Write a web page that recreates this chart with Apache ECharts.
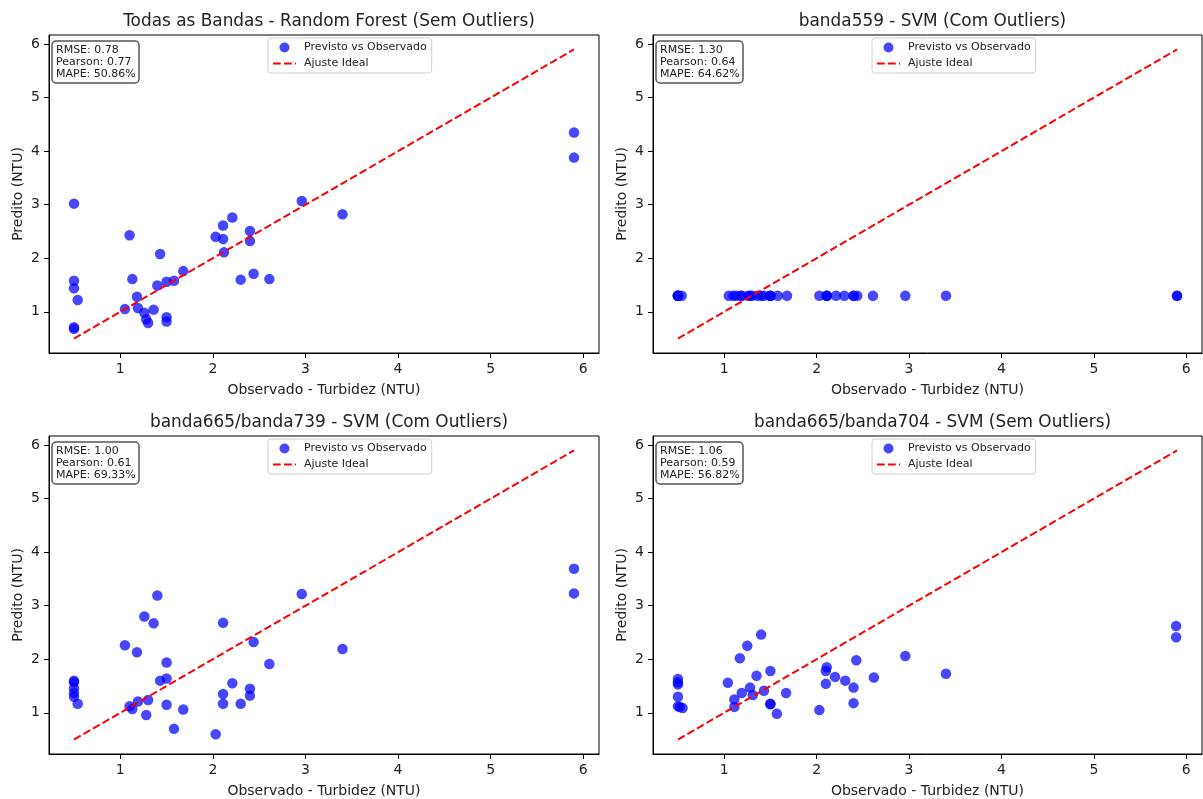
<!DOCTYPE html>
<html>
<head>
<meta charset="utf-8">
<script src="https://cdn.jsdelivr.net/npm/echarts@6/dist/echarts.min.js"></script>
<style>
html,body{margin:0;padding:0;background:#fff;}
#chart{width:1203px;height:799px;}
</style>
</head>
<body>
<div id="chart"></div>
<script>
// ---------- data ----------
const panelTitles = [
  'Todas as Bandas - Random Forest (Sem Outliers)',
  'banda559 - SVM (Com Outliers)',
  'banda665/banda739 - SVM (Com Outliers)',
  'banda665/banda704 - SVM (Sem Outliers)'
];
const rmseValues = [0.78, 1.30, 1.00, 1.06];
const pearsonValues = [0.77, 0.64, 0.61, 0.59];
const mapeValues = [50.86, 64.62, 69.33, 56.82];
const tickValues = [1, 2, 3, 4, 5, 6];
const idealX = [0.5, 5.9];
const idealY = [0.5, 5.9];
const xAxisName = 'Observado - Turbidez (NTU)';
const yAxisName = 'Predito (NTU)';
const scatterName = 'Previsto vs Observado';
const lineName = 'Ajuste Ideal';

// Panel 1: Todas as Bandas - Random Forest (Sem Outliers)
const obsA = [0.5,0.5,0.5,0.5,0.5,0.54,1.10,1.13,1.18,1.05,1.19,1.26,1.28,1.30,1.36,1.43,1.40,1.50,1.50,1.50,1.58,1.68,2.03,2.11,2.11,2.12,2.21,2.40,2.40,2.44,2.30,2.61,2.96,3.40,5.90,5.90];
const predA = [3.02,1.58,1.44,0.71,0.68,1.22,2.43,1.61,1.28,1.05,1.07,0.98,0.86,0.79,1.04,2.08,1.49,1.56,0.90,0.82,1.58,1.76,2.40,2.61,2.36,2.11,2.76,2.51,2.32,1.71,1.60,1.61,3.07,2.82,4.35,3.88];

// Panel 2: banda559 - SVM (Com Outliers)
const obsB = [0.5,0.5,0.5,0.5,0.5,0.54,1.05,1.18,1.26,1.36,1.40,1.50,1.43,1.50,1.10,1.13,1.19,1.30,1.28,1.50,1.68,1.58,2.03,2.11,2.11,2.11,2.21,2.30,2.40,2.40,2.44,2.61,2.96,3.40,5.90,5.90];
const predB = [1.30,1.30,1.30,1.30,1.30,1.30,1.30,1.30,1.30,1.30,1.30,1.30,1.30,1.30,1.30,1.30,1.30,1.30,1.30,1.30,1.30,1.30,1.30,1.30,1.30,1.30,1.30,1.30,1.30,1.30,1.30,1.30,1.30,1.30,1.30,1.30];

// Panel 3: banda665/banda739 - SVM (Com Outliers)
const obsC = [0.5,0.5,0.5,0.5,0.5,0.54,1.05,1.18,1.26,1.36,1.40,1.50,1.43,1.50,1.10,1.13,1.19,1.30,1.28,1.50,1.68,1.58,2.03,2.11,2.11,2.11,2.21,2.30,2.40,2.40,2.44,2.61,2.96,3.40,5.90,5.90];
const predC = [1.60,1.57,1.46,1.37,1.30,1.17,2.26,2.13,2.80,2.67,3.19,1.94,1.60,1.64,1.12,1.07,1.21,1.24,0.96,1.15,1.06,0.70,0.60,2.68,1.35,1.17,1.55,1.17,1.45,1.32,2.32,1.91,3.22,2.19,3.69,3.23];

// Panel 4: banda665/banda704 - SVM (Sem Outliers)
const obsD = [0.5,0.5,0.5,0.5,0.5,0.52,0.55,1.04,1.11,1.11,1.17,1.19,1.25,1.28,1.31,1.35,1.40,1.43,1.50,1.50,1.50,1.57,1.67,2.03,2.10,2.11,2.10,2.20,2.31,2.40,2.40,2.43,2.62,2.96,3.40,5.89,5.89];
const predD = [1.63,1.57,1.53,1.30,1.12,1.11,1.09,1.56,1.25,1.11,2.02,1.37,2.25,1.47,1.33,1.69,2.46,1.41,1.78,1.17,1.16,0.98,1.37,1.05,1.78,1.85,1.54,1.67,1.60,1.47,1.18,1.98,1.66,2.06,1.73,2.62,2.41];

const panelObs = [obsA, obsB, obsC, obsD];
const panelPred = [predA, predB, predC, predD];

// ---------- layout ----------
const FONT = 'DejaVu Sans';
const POINT_COLOR = 'rgba(0,0,255,0.72)';
const gridRects = [
  {left: 49,  top: 35,  width: 550, height: 318},
  {left: 653, top: 35,  width: 549, height: 318},
  {left: 49,  top: 436, width: 550, height: 318},
  {left: 653, top: 436, width: 549, height: 318}
];
const axisMin = 0.23, axisMax = 6.17;

const grid = [], xAxis = [], yAxis = [], series = [], legend = [], title = [];

gridRects.forEach((g, i) => {
  grid.push({left: g.left, top: g.top, width: g.width, height: g.height,
    show: true, borderColor: '#000', borderWidth: 1, backgroundColor: '#fff', containLabel: false});

  const axisCommon = {
    type: 'value', gridIndex: i, min: axisMin, max: axisMax,
    splitLine: {show: false},
    axisLine: {show: true, onZero: false, lineStyle: {color: '#000', width: 1}},
    axisTick: {show: true, length: 5, customValues: tickValues, lineStyle: {color: '#000', width: 1}},
    axisLabel: {customValues: tickValues, margin: 9, fontSize: 14, color: '#222', fontFamily: FONT},
    nameLocation: 'middle',
    nameTextStyle: {fontSize: 14, color: '#222', fontFamily: FONT}
  };
  xAxis.push(Object.assign({}, axisCommon, {name: xAxisName, nameGap: 30}));
  yAxis.push(Object.assign({}, axisCommon, {name: yAxisName, nameGap: 24}));

  const pts = panelObs[i].map((x, k) => [x, panelPred[i][k]]);
  series.push({
    name: scatterName, type: 'scatter', xAxisIndex: i, yAxisIndex: i,
    data: pts, symbol: 'circle', symbolSize: 10.5,
    itemStyle: {color: POINT_COLOR, opacity: 1}, z: 2
  });
  series.push({
    name: lineName, type: 'line', xAxisIndex: i, yAxisIndex: i,
    data: idealX.map((x, k) => [x, idealY[k]]),
    symbol: 'none', showSymbol: false,
    lineStyle: {color: '#ff0000', width: 2, type: [7.7, 3.3]},
    itemStyle: {color: '#ff0000'}, z: 3
  });

  legend.push({
    left: g.left + 219, top: g.top + 3, orient: 'vertical',
    data: [
      {name: scatterName, icon: 'circle', itemStyle: {color: POINT_COLOR, opacity: 1}},
      {name: lineName, itemStyle: {color: 'rgba(0,0,0,0)', borderWidth: 0, opacity: 0},
       lineStyle: {color: '#ff0000', width: 2, type: [7.7, 3.3], opacity: 1}}
    ],
    itemWidth: 23, itemHeight: 10, itemGap: 5,
    padding: [4, 5, 4, 4],
    borderColor: '#d0d0d0', borderWidth: 1, borderRadius: 3,
    backgroundColor: 'rgba(255,255,255,0.8)',
    selectedMode: false,
    textStyle: {fontSize: 11, color: '#222', fontFamily: FONT, padding: [0, 0, 0, 3]}
  });

  title.push({
    text: panelTitles[i], left: g.left + g.width / 2, top: g.top - 27, textAlign: 'center',
    textStyle: {fontSize: 16.9, fontWeight: 'normal', color: '#222', fontFamily: FONT}
  });
  title.push({
    text: 'RMSE: ' + rmseValues[i].toFixed(2) + '\nPearson: ' + pearsonValues[i].toFixed(2) + '\nMAPE: ' + mapeValues[i].toFixed(2) + '%',
    left: g.left + 3, top: g.top + 6,
    padding: [3, 4, 3, 4],
    backgroundColor: 'rgba(255,255,255,0.8)', borderColor: '#555', borderWidth: 1.5, borderRadius: 4,
    textStyle: {fontSize: 11, lineHeight: 12, fontWeight: 'normal', color: '#222', fontFamily: FONT}
  });
});

const chart = echarts.init(document.getElementById('chart'), null, {renderer: 'canvas'});
chart.setOption({
  animation: false,
  backgroundColor: '#fff',
  textStyle: {fontFamily: FONT},
  title, legend, grid, xAxis, yAxis, series
});
</script>
</body>
</html>
